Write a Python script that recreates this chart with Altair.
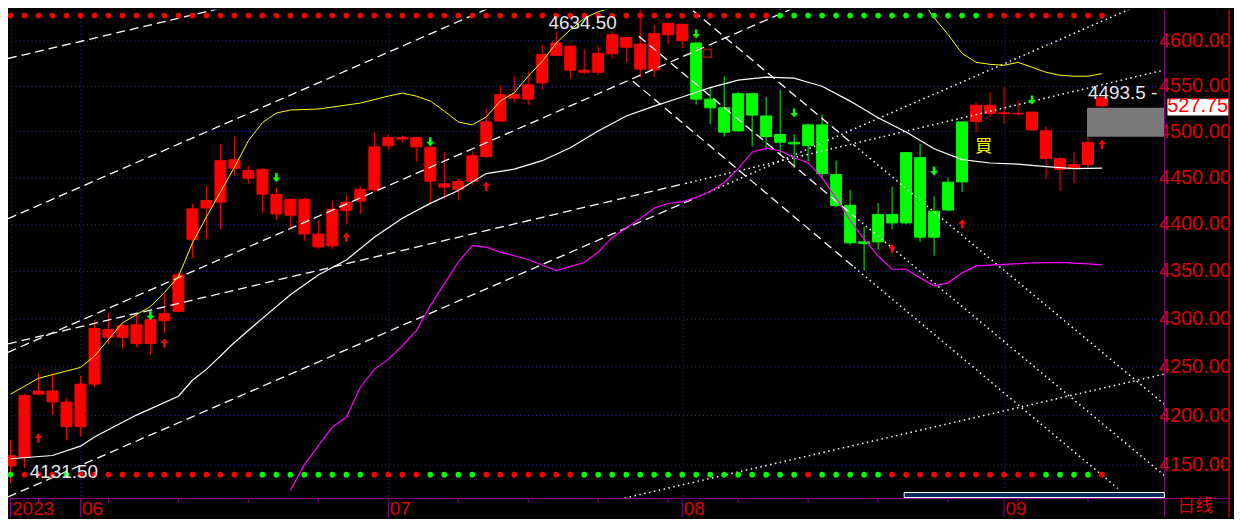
import altair as alt
import pandas as pd

RED = "#ff0000"
GREEN = "#00ff00"
AXRED = "#dc0000"
PURPLE = "#8a008a"
GRID = "#2424b8"
FONT = "Liberation Sans"

# ---------------- daily OHLC (index 0 = first bar, 2023) ----------------
opens = [4159.0, 4157.25, 4221.75, 4225.0, 4213.5, 4188.5, 4232.0, 4288.5, 4280.5, 4293.5,
         4274.0, 4297.75, 4307.5, 4383.5, 4417.0, 4423.25, 4469.0, 4457.25, 4458.25, 4431.5,
         4409.25, 4426.25, 4389.0, 4376.5, 4414.5, 4424.5, 4436.5, 4484.25, 4493.25, 4493.25,
         4482.5, 4443.0, 4437.0, 4445.5, 4472.5, 4511.25, 4540.25, 4535.25, 4553.25, 4583.75,
         4594.0, 4567.25, 4565.0, 4585.5, 4603.75, 4596.25, 4567.5, 4606.75, 4618.5, 4597.5,
         4535.25, 4525.75, 4500.5, 4541.25, 4516.75, 4496.5, 4488.0, 4484.25, 4507.0, 4453.0,
         4419.75, 4380.75, 4380.75, 4410.0, 4401.0, 4471.25, 4385.75, 4414.75, 4445.0, 4510.5,
         4528.5, 4520.25, 4519.0, 4521.0, 4500.5, 4470.25, 4459.5, 4463.75, 4536.75]
highs = [4175.0, 4222.25, 4243.25, 4243.25, 4217.5, 4240.5, 4297.75, 4305.75, 4294.5, 4304.0,
         4306.5, 4325.75, 4348.0, 4421.5, 4440.5, 4486.5, 4494.25, 4462.5, 4460.0, 4439.0,
         4427.0, 4428.25, 4403.75, 4425.0, 4430.5, 4440.0, 4498.5, 4496.0, 4495.25, 4493.5,
         4483.0, 4477.0, 4448.25, 4478.0, 4524.5, 4550.75, 4560.5, 4566.0, 4595.5, 4610.25,
         4594.75, 4590.5, 4594.5, 4610.25, 4604.0, 4634.5, 4618.0, 4619.75, 4618.75, 4598.75,
         4548.5, 4560.5, 4543.0, 4541.5, 4537.5, 4545.25, 4496.75, 4508.5, 4518.5, 4468.0,
         4436.5, 4397.0, 4422.25, 4440.0, 4477.0, 4486.75, 4429.5, 4449.75, 4510.5, 4532.25,
         4542.75, 4548.5, 4533.0, 4521.25, 4505.0, 4472.25, 4477.75, 4493.25, 4537.5]
lows = [4131.5, 4146.75, 4220.5, 4200.25, 4174.5, 4178.5, 4229.0, 4273.0, 4268.75, 4270.25,
        4262.5, 4285.0, 4306.5, 4363.5, 4383.75, 4394.25, 4452.0, 4443.25, 4411.25, 4404.5,
        4395.0, 4382.0, 4373.0, 4373.0, 4400.25, 4410.5, 4434.0, 4480.0, 4487.75, 4467.0,
        4422.0, 4427.0, 4425.0, 4441.25, 4471.0, 4510.5, 4532.0, 4528.75, 4545.25, 4582.75,
        4557.5, 4562.75, 4561.75, 4580.5, 4575.25, 4558.75, 4559.5, 4596.25, 4591.75, 4529.25,
        4508.0, 4494.25, 4499.25, 4483.5, 4479.5, 4475.25, 4460.0, 4467.25, 4448.25, 4418.0,
        4377.25, 4350.0, 4373.0, 4394.25, 4399.5, 4380.5, 4366.0, 4413.5, 4434.25, 4498.75,
        4516.0, 4508.0, 4517.0, 4500.5, 4447.75, 4435.0, 4443.5, 4460.25, 4526.75]
closes = [4148.75, 4220.25, 4225.0, 4213.75, 4188.5, 4232.0, 4289.5, 4280.5, 4292.5, 4274.0,
          4298.75, 4305.0, 4345.75, 4416.0, 4425.0, 4468.0, 4459.75, 4449.0, 4431.75, 4410.5,
          4426.25, 4389.25, 4375.5, 4415.5, 4423.25, 4437.0, 4483.0, 4493.25, 4491.5, 4483.0,
          4445.75, 4439.5, 4445.5, 4473.25, 4510.25, 4540.25, 4536.25, 4551.0, 4584.75, 4597.5,
          4567.25, 4565.0, 4586.0, 4606.75, 4592.75, 4568.5, 4608.0, 4619.5, 4600.0, 4535.25,
          4525.75, 4499.0, 4541.25, 4517.75, 4494.25, 4488.0, 4486.25, 4507.0, 4454.0, 4419.75,
          4379.75, 4379.0, 4410.0, 4401.0, 4476.75, 4385.75, 4413.5, 4444.75, 4510.25, 4528.5,
          4519.5, 4519.25, 4519.75, 4501.5, 4470.5, 4458.5, 4463.75, 4488.0, 4527.75]
regime = "rrrrrrrrrr rrrrrrrrrr rrrrrrrrrr rrrrrrrrrr rrrrrrrrrg gggggggggg gggggggggr rrrrrrrrr".replace(" ", "")
top_dots = "rrrrrrrrrr rrrrrrrrrr rrrrrrrrrr rrrrrrrrrr rrrrrrrrrr rrrrrggggg gggggggggg rrrrrrrrr".replace(" ", "")
bottom_dots = "grrrgrrrrr rrrrrrrrgg ggggggrrrr ggggrrrrrr rggggggggg gggggggrgg gggrrrrrrr rrrrggggr".replace(" ", "")
top_dot_level = 4628.2
bottom_dot_level = 4140.0

# ---------------- indicator lines ----------------
yellow_i = [0, 2, 5, 6, 8, 10, 11, 12, 13, 14, 15, 16, 17, 18, 19, 20, 22, 25, 27, 28, 29, 30, 31, 32, 33,
            34, 35, 36, 37, 38, 39, 40, 41, 42, 43, 44, 45, 46, 48, 50, 52, 53, 54, 55, 56, 57, 59, 62,
            65, 66, 67, 68, 69, 70, 71, 72, 73, 74, 75, 76, 77, 78]
yellow_p = [4221.7, 4238.0, 4249.2, 4260.9, 4295.4, 4312.5, 4327.2, 4344.0, 4379.4, 4407.3, 4434.0,
            4460.8, 4489.6, 4509.5, 4520.0, 4523.3, 4524.4, 4530.9, 4538.6, 4541.9, 4538.6, 4533.1,
            4522.2, 4510.2, 4507.0, 4515.7, 4533.1, 4542.3, 4560.6, 4577.1, 4597.4, 4612.2, 4625.1,
            4632.6, 4637.1, 4639.3, 4642.7, 4647.2, 4655.0, 4655.0, 4645.0, 4640.4, 4636.5, 4635.4,
            4637.1, 4641.5, 4650.0, 4660.0, 4648.0, 4625.9, 4607.0, 4585.9, 4576.0, 4573.8, 4572.7,
            4576.0, 4570.5, 4565.0, 4561.7, 4560.6, 4560.6, 4563.4]
white_i = [0, 3, 5, 6, 9, 12, 13, 14, 16, 18, 20, 22, 24, 26, 28, 30, 32, 34, 36, 38, 40, 42, 44, 46,
           48, 50, 52, 54, 56, 57, 58, 60, 62, 64, 66, 68, 70, 72, 74, 76, 78]
white_p = [4156.0, 4159.3, 4168.7, 4178.1, 4200.3, 4219.6, 4236.0, 4247.2, 4275.0, 4300.1, 4324.8,
           4345.7, 4361.5, 4385.7, 4405.9, 4421.9, 4435.8, 4454.0, 4458.8, 4468.0, 4482.0, 4500.4,
           4516.7, 4527.6, 4537.6, 4548.0, 4556.2, 4559.5, 4558.4, 4553.9, 4549.5, 4533.1, 4514.9,
           4499.3, 4481.0, 4469.1, 4465.5, 4464.2, 4461.5, 4459.4, 4459.9]
mag_i = [20, 21, 23, 24, 25, 26, 27, 28, 29, 30, 31, 32, 33, 34, 35, 37, 38, 39, 41, 42, 43, 45, 46, 47,
         48, 49, 50, 51, 52, 53, 54, 55, 56, 57, 58, 59, 60, 61, 62, 63, 64, 65, 66, 67, 68, 69, 71,
         73, 75, 77, 78]
mag_p = [4124.0, 4150.0, 4188.2, 4198.1, 4228.8, 4247.2, 4257.5, 4271.6, 4287.3, 4313.4, 4336.3,
         4359.4, 4376.8, 4375.1, 4369.8, 4362.0, 4356.2, 4350.3, 4358.8, 4369.9, 4385.5, 4405.8,
         4417.0, 4421.8, 4423.5, 4428.3, 4434.7, 4444.4, 4459.4, 4477.2, 4481.7, 4478.8, 4471.2,
         4465.8, 4449.7, 4427.2, 4403.8, 4383.7, 4365.7, 4351.7, 4351.7, 4342.6, 4334.3, 4337.4,
         4347.9, 4355.2, 4356.8, 4358.4, 4358.9, 4357.4, 4356.3]

# ---------------- drawn trend lines (start/end points) ----------------
dash_i0 = [-0.18, -0.18, -0.18, -0.18, -0.18, 48.02, 44.90, 44.48]
dash_p0 = [4580.2, 4405.4, 4264.8, 4273.6, 4117.6, 4643.8, 4605.1, 4555.1]
dash_i1 = [17.00, 35.24, 56.98, 48.24, 48.95, 60.31, 60.31, 60.31]
dash_p1 = [4643.8, 4643.8, 4643.8, 4443.4, 4427.8, 4484.6, 4407.9, 4353.7]
dot_i0 = [48.24, 48.95, 43.90, 60.31, 60.31, 60.31]
dot_p0 = [4443.4, 4427.8, 4116.5, 4484.6, 4407.9, 4353.7]
dot_i1 = [82.46, 81.20, 82.46, 82.46, 82.46, 79.13]
dot_p1 = [4567.5, 4643.8, 4242.4, 4211.4, 4139.1, 4126.1]

# ---------------- signals ----------------
down_i = [10, 19, 30, 49, 56, 66, 73]
down_p = [4303.0, 4449.7, 4488.5, 4607.6, 4520.0, 4456.7, 4534.2]
up_i = [2, 11, 24, 34, 63, 68, 78]
up_p = [4177.1, 4274.5, 4385.8, 4440.2, 4373.6, 4400.1, 4485.8]

# ---------------- axes ----------------
price_ticks = [4150, 4200, 4250, 4300, 4350, 4400, 4450, 4500, 4550, 4600]
month_idx = [0, 5, 27, 48, 71]
month_lbl = ["2023", "06", "07", "08", "09"]
monday_idx = [2, 7, 12, 17, 22, 32, 37, 42, 47, 52, 57, 62, 67, 72, 77]
last_price = 4527.75

W, H = 1164, 492
xs = alt.Scale(domain=[-0.1775, 82.464], nice=False, zero=False)
ys = alt.Scale(type="log", domain=[4116.1, 4634.9], nice=False, zero=False)

expr = "".join(f"datum.value=={v}?'{t}':" for v, t in zip(month_idx, month_lbl)) + "''"
xaxis = alt.Axis(values=month_idx, labelExpr=expr, grid=True, gridColor=GRID, gridDash=[1, 3],
                 gridOpacity=1, domain=False, ticks=False, labelColor=AXRED, labelFont=FONT,
                 labelFontSize=19, labelAlign="left", labelBaseline="top", labelPadding=1,
                 labelOffset=1, labelFlush=False, labelOverlap=False, labelBound=False, title=None)
yaxis = alt.Axis(orient="right", values=price_ticks, format=".2f", grid=True, gridColor=GRID,
                 gridDash=[1, 3], gridOpacity=1, domain=False, ticks=False, labelColor=AXRED,
                 labelFont=FONT, labelFontSize=20, labelAlign="left", labelBaseline="middle",
                 labelPadding=-6, labelFlush=False, labelOverlap=False, title=None)


def X(f):
    return alt.X(f, type="quantitative", scale=xs, axis=xaxis)


def Y(f):
    return alt.Y(f, type="quantitative", scale=ys, axis=yaxis)


def XD(v):
    return alt.XDatum(v, type="quantitative", scale=xs, axis=xaxis)


def YD(v):
    return alt.YDatum(v, type="quantitative", scale=ys, axis=yaxis)


def YD2(v):
    return alt.Y2Datum(v)


col_of = {"r": RED, "g": GREEN}
idx = list(range(len(opens)))
cdf = pd.DataFrame({"i": idx, "o": opens, "h": highs, "l": lows, "c": closes,
                    "col": [col_of[r] for r in regime]})
cdf["top"] = cdf[["o", "c"]].max(axis=1)
cdf["bot"] = cdf[["o", "c"]].min(axis=1)
cdf["x1"] = cdf["i"] - 0.39
cdf["x2"] = cdf["i"] + 0.39

wicks = alt.Chart(cdf).mark_rule(strokeWidth=1).encode(
    x=X("i"), y=Y("l"), y2="h", color=alt.Color("col:N", scale=None))
bodies = alt.Chart(cdf).mark_rect(strokeWidth=1).encode(
    x=X("x1"), x2="x2", y=Y("top"), y2="bot",
    fill=alt.Fill("col:N", scale=None), stroke=alt.Stroke("col:N", scale=None))


def seg_df(i0, p0, i1, p1):
    rows = []
    for k in range(len(i0)):
        rows.append({"seg": k, "i": i0[k], "p": p0[k]})
        rows.append({"seg": k, "i": i1[k], "p": p1[k]})
    return pd.DataFrame(rows)


dashed = alt.Chart(seg_df(dash_i0, dash_p0, dash_i1, dash_p1)).mark_line(
    color="white", strokeWidth=1.3, strokeDash=[9, 5], clip=True).encode(
    x=X("i"), y=Y("p"), detail="seg:N")
dotted = alt.Chart(seg_df(dot_i0, dot_p0, dot_i1, dot_p1)).mark_line(
    color="white", strokeWidth=1.5, strokeDash=[1.5, 3.5], clip=True).encode(
    x=X("i"), y=Y("p"), detail="seg:N")

yellow = alt.Chart(pd.DataFrame({"i": yellow_i, "p": yellow_p})).mark_line(
    color="#ffff00", strokeWidth=1, clip=True).encode(x=X("i"), y=Y("p"))
white = alt.Chart(pd.DataFrame({"i": white_i, "p": white_p})).mark_line(
    color="#ffffff", strokeWidth=1.2, clip=True).encode(x=X("i"), y=Y("p"))
magenta = alt.Chart(pd.DataFrame({"i": mag_i, "p": mag_p})).mark_line(
    color="#ff00ff", strokeWidth=1.2, clip=True).encode(x=X("i"), y=Y("p"))

tdots = alt.Chart(pd.DataFrame({"i": idx, "col": [col_of[c] for c in top_dots]})).mark_circle(
    size=32, opacity=1).encode(x=X("i"), y=YD(top_dot_level), color=alt.Color("col:N", scale=None))
bdots = alt.Chart(pd.DataFrame({"i": idx, "col": [col_of[c] for c in bottom_dots]})).mark_circle(
    size=32, opacity=1).encode(x=X("i"), y=YD(bottom_dot_level), color=alt.Color("col:N", scale=None))

DOWN = "M-0.28,-1L0.28,-1L0.28,0L0.85,0L0,1L-0.85,0L-0.28,0Z"
UP = "M-0.28,1L0.28,1L0.28,0L0.85,0L0,-1L-0.85,0L-0.28,0Z"
down_arrows = alt.Chart(pd.DataFrame({"i": down_i, "p": down_p})).mark_point(
    shape=DOWN, filled=True, size=85, color=GREEN, opacity=1).encode(x=X("i"), y=Y("p"))
up_arrows = alt.Chart(pd.DataFrame({"i": up_i, "p": up_p})).mark_point(
    shape=UP, filled=True, size=85, color=RED, opacity=1).encode(x=X("i"), y=Y("p"))

one = pd.DataFrame({"k": [0]})
zone = alt.Chart(one).mark_rect(color="#7a7a7a").encode(
    x=XD(76.93), x2=alt.value(W), y=YD(4525.8), y2=YD2(4494.0))
marker = alt.Chart(one).mark_point(shape="square", filled=False, color=RED, size=60,
                                   strokeWidth=1.5).encode(x=XD(49.8), y=YD(4585.9))

lab_txt = ["4634.50", "4131.50", "4493.5 -"]
lab_i = [38.45, 1.38, 77.0]
lab_p = [4620.4, 4142.5, 4541.9]
labels = alt.Chart(pd.DataFrame({"t": lab_txt, "i": lab_i, "p": lab_p})).mark_text(
    align="left", baseline="middle", font=FONT, fontSize=19, color="#e6e6e6").encode(
    x=X("i"), y=Y("p"), text="t:N")
buy = alt.Chart(pd.DataFrame({"t": ["買"], "i": [69.54], "p": [4483.1]})).mark_text(
    align="center", baseline="middle", font="Noto Sans CJK TC", fontSize=17,
    color="#ffff00").encode(x=X("i"), y=Y("p"), text="t:N")

# last price tag on the axis
tag_box = alt.Chart(one).mark_rect(color="white").encode(
    x=alt.value(W + 3), x2=alt.value(W + 65), y=YD(4535.6), y2=YD2(4517.4))
tag_txt = alt.Chart(pd.DataFrame({"t": [f"{last_price:.2f}"[1:]]})).mark_text(
    align="right", baseline="middle", font=FONT, fontSize=20, color=RED).encode(
    x=alt.value(W + 64), y=YD(last_price), text="t:N")

# frame pieces
frame_v = alt.Chart(one).mark_rule(color=PURPLE).encode(
    x=alt.value(W), y=alt.value(0), y2=alt.value(H + 19))
frame_r = alt.Chart(one).mark_rule(color="#c00000", strokeWidth=1.5).encode(
    x=alt.value(W + 65), y=alt.value(0), y2=alt.value(H + 19))
frame_b = alt.Chart(one).mark_rule(color=PURPLE).encode(
    x=alt.value(0), x2=alt.value(W + 65), y=alt.value(H))
mticks = alt.Chart(pd.DataFrame({"i": month_idx})).mark_rule(color=PURPLE).encode(
    x=X("i"), y=alt.value(H), y2=alt.value(H + 19))
wticks = alt.Chart(pd.DataFrame({"i": monday_idx})).mark_rule(color=PURPLE).encode(
    x=X("i"), y=alt.value(H), y2=alt.value(H + 4))
scrollbar = alt.Chart(one).mark_rect(fill="#0c2a5e", stroke="white", strokeWidth=1).encode(
    x=alt.value(902), x2=alt.value(W), y=alt.value(H - 6), y2=alt.value(H - 1))
period = alt.Chart(pd.DataFrame({"t": ["日线"]})).mark_text(
    align="left", baseline="top", font="Noto Sans CJK SC", fontSize=18, color=AXRED).encode(
    x=alt.value(W + 13), y=alt.value(H), text="t:N")

chart = alt.layer(
    wicks, bodies, dashed, dotted, yellow, white, magenta, zone, marker,
    down_arrows, up_arrows, tdots, bdots, labels, buy, tag_box, tag_txt,
    frame_v, frame_r, frame_b, mticks, wticks, scrollbar, period
).properties(
    width=W, height=H,
    padding={"left": 0, "top": 0, "right": 70, "bottom": 19},
    autosize=alt.AutoSizeParams(type="none"),
).configure(background="#000000").configure_view(stroke=None)

chart.save("out.html", embed_options={"renderer": "svg", "actions": False})
